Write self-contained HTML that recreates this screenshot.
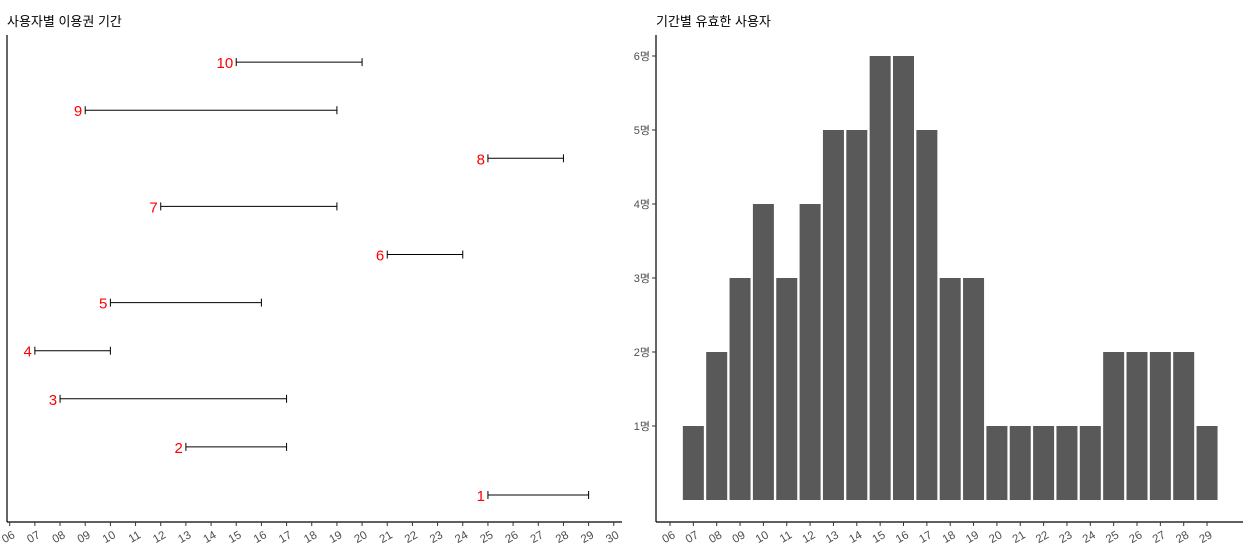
<!DOCTYPE html>
<html><head><meta charset="utf-8"><style>
body{margin:0;background:#fff;font-family:"Liberation Sans","Noto Sans CJK KR",sans-serif}
</style></head><body>
<svg id="c" width="1248" height="548" xmlns="http://www.w3.org/2000/svg">
<text x="7" y="26" font-size="13" fill="#000">사용자별 이용권 기간</text>
<text x="656" y="26" font-size="13" fill="#000">기간별 유효한 사용자</text>
<g id="left"></g><g id="right"></g>
</svg>
<script>
const users=[1,2,3,4,5,6,7,8,9,10];
const starts=[25,13,8,7,10,21,12,25,9,15];
const ends=[29,17,17,10,16,24,19,28,19,20];
const leftTicks=[6,7,8,9,10,11,12,13,14,15,16,17,18,19,20,21,22,23,24,25,26,27,28,29,30];
const days=[7,8,9,10,11,12,13,14,15,16,17,18,19,20,21,22,23,24,25,26,27,28,29];
const counts=[1,2,3,4,3,4,5,5,6,6,5,3,3,1,1,1,1,1,2,2,2,2,1];
const rightTicks=[6,7,8,9,10,11,12,13,14,15,16,17,18,19,20,21,22,23,24,25,26,27,28,29];
const yTicks=[1,2,3,4,5,6];
const NS="http://www.w3.org/2000/svg";
function mk(p,t,a){const e=document.createElementNS(NS,t);for(const k in a)e.setAttribute(k,a[k]);p.appendChild(e);return e;}
const L=document.getElementById('left'),R=document.getElementById('right');
const lx=d=>9.7+(d-6)*25.17, ly=u=>495-(u-1)*48.1;
let e;
e=mk(L,'line',{x1:7,y1:35,x2:7,y2:522,stroke:'#000','stroke-width':1.2});

e=mk(L,'line',{x1:7,y1:522,x2:622,y2:522,stroke:'#000','stroke-width':1.2});

leftTicks.forEach(d=>{const x=lx(d);
 mk(L,'line',{x1:x,y1:522,x2:x,y2:526,stroke:'#333'});
 e=mk(L,'text',{x:x+6,y:537,'font-size':11.5,fill:'#4d4d4d','text-anchor':'end',transform:`rotate(-30 ${x+6} 537)`});
 e.textContent=String(d).padStart(2,'0');
 });
users.forEach((u,i)=>{const y=ly(u),x1=lx(starts[i]),x2=lx(ends[i]);
 e=mk(L,'g',{});
 mk(e,'line',{x1:x1,y1:y,x2:x2,y2:y,stroke:'#000','stroke-width':1});
 mk(e,'line',{x1:x1,y1:y-4,x2:x1,y2:y+4,stroke:'#000','stroke-width':1});
 mk(e,'line',{x1:x2,y1:y-4,x2:x2,y2:y+4,stroke:'#000','stroke-width':1});
 const t=mk(e,'text',{x:x1-3,y:y+6,'font-size':15,fill:'#ff0000','text-anchor':'end'});t.textContent=u;});
const rx=d=>670+(d-6)*23.35, ry=v=>500-v*74;
e=mk(R,'line',{x1:656,y1:35,x2:656,y2:522,stroke:'#000','stroke-width':1.2});

e=mk(R,'line',{x1:656,y1:522,x2:1243,y2:522,stroke:'#000','stroke-width':1.2});

yTicks.forEach(v=>{const y=ry(v);
 mk(R,'line',{x1:652,y1:y,x2:656,y2:y,stroke:'#333'});
 e=mk(R,'text',{x:650,y:y+4,'font-size':11,fill:'#4d4d4d','text-anchor':'end'});e.textContent=v+'명';
 });
rightTicks.forEach(d=>{const x=rx(d);
 mk(R,'line',{x1:x,y1:522,x2:x,y2:526,stroke:'#333'});
 e=mk(R,'text',{x:x+6,y:537,'font-size':11.5,fill:'#4d4d4d','text-anchor':'end',transform:`rotate(-30 ${x+6} 537)`});
 e.textContent=String(d).padStart(2,'0');
 });
days.forEach((d,i)=>{const x=rx(d);
 e=mk(R,'rect',{x:x-10.5,y:ry(counts[i]),width:21,height:counts[i]*74,fill:'#595959'});
 });
</script>
</body></html>
